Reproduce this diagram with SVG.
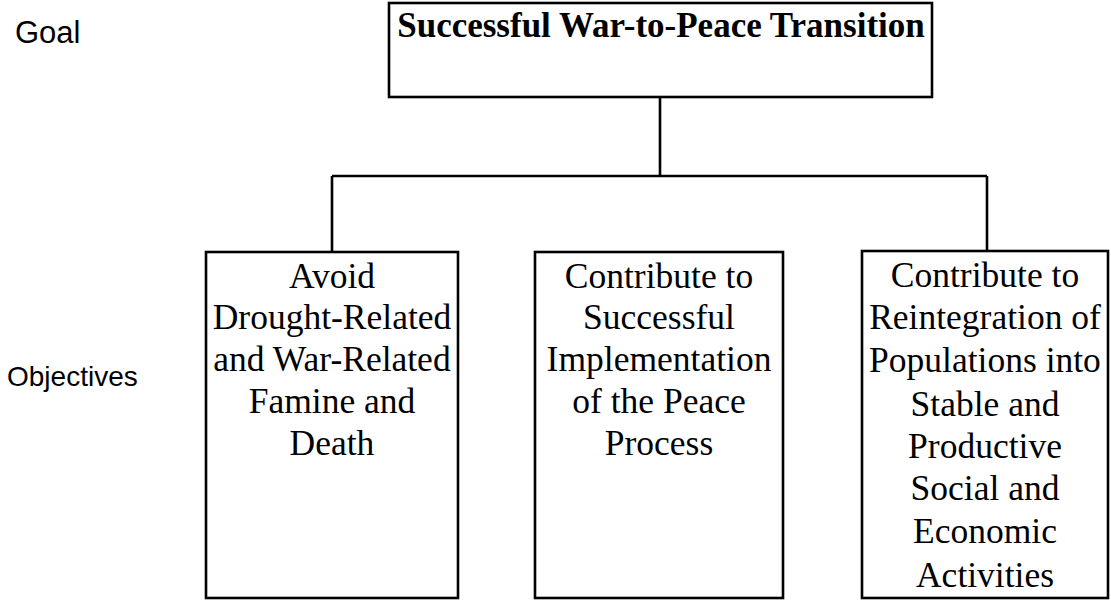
<svg xmlns="http://www.w3.org/2000/svg" width="1111" height="600" viewBox="0 0 1111 600">
<style>
.box{fill:#fff;stroke:#000;stroke-width:2.6}
.con{fill:none;stroke:#000;stroke-width:2.6}
.lbl{font-family:"Liberation Sans",Arial,sans-serif;font-size:28px;fill:#000}
.t{font-family:"Liberation Serif","Times New Roman",serif;font-size:35.5px;fill:#000;text-anchor:middle}
.title{font-family:"Liberation Serif","Times New Roman",serif;font-size:35px;font-weight:bold;fill:#000;text-anchor:middle}
</style>
<rect width="1111" height="600" fill="#fff"/>
<g id="labels">
<text class="lbl" x="15" y="43" style="font-size:31px">Goal</text>
<text class="lbl" x="7" y="386">Objectives</text>
</g>
<g id="connectors">
<path class="con" d="M660 97 V176 M332 176 H987 M332 176 V252 M987 176 V251"/>
</g>
<g id="goal">
<rect class="box" x="389" y="3" width="543" height="94"/>
<text class="title" x="661" y="37">Successful War-to-Peace Transition</text>
</g>
<g id="obj1">
<rect class="box" x="206" y="252" width="252" height="346"/>
<text class="t" x="332" y="288">Avoid</text>
<text class="t" x="332" y="329">Drought-Related</text>
<text class="t" x="332" y="371">and War-Related</text>
<text class="t" x="332" y="413">Famine and</text>
<text class="t" x="332" y="455">Death</text>
</g>
<g id="obj2">
<rect class="box" x="535" y="252" width="248" height="346"/>
<text class="t" x="659" y="288">Contribute to</text>
<text class="t" x="659" y="329">Successful</text>
<text class="t" x="659" y="371">Implementation</text>
<text class="t" x="659" y="413">of the Peace</text>
<text class="t" x="659" y="455">Process</text>
</g>
<g id="obj3">
<rect class="box" x="862" y="251" width="246" height="347"/>
<text class="t" x="985" y="287">Contribute to</text>
<text class="t" x="985" y="329">Reintegration of</text>
<text class="t" x="985" y="372">Populations into</text>
<text class="t" x="985" y="416">Stable and</text>
<text class="t" x="985" y="458">Productive</text>
<text class="t" x="985" y="500">Social and</text>
<text class="t" x="985" y="543">Economic</text>
<text class="t" x="985" y="587">Activities</text>
</g>
</svg>
